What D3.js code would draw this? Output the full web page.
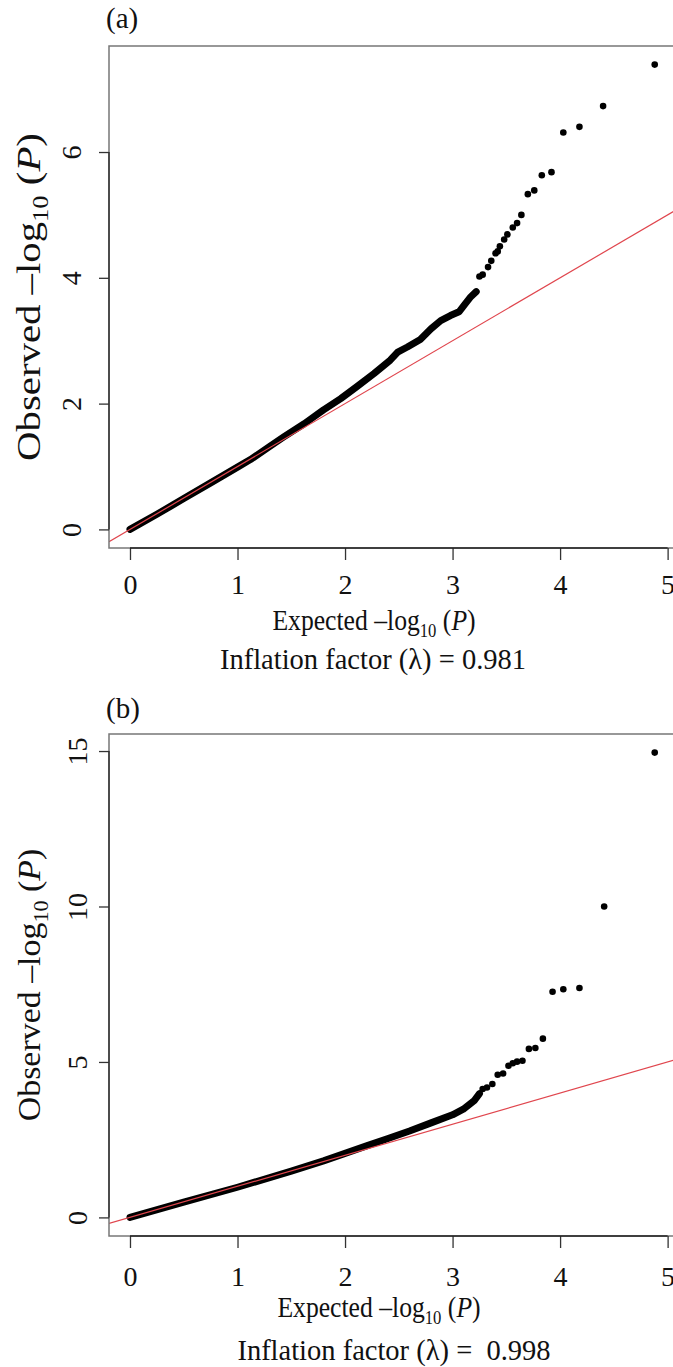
<!DOCTYPE html>
<meta charset="utf-8">
<style>
    body {
        margin: 0;
        background: #fff;
    }
    text {
        font-family: "Liberation Serif", "Times New Roman", serif;
        fill: #111;
    }
</style>
<body>
<div id="plotarea"></div>

<script src="https://cdn.jsdelivr.net/npm/d3@7/dist/d3.min.js"></script>
<script>

    var xTicks = [0, 1, 2, 3, 4, 5];
    var yTicksA = [0, 2, 4, 6];
    var yTicksB = [0, 5, 10, 15];

    // dense part of the qq plot, [expected, observed]
    var bandA = [
        [0.00, 0.00], [0.25, 0.24], [0.50, 0.49], [0.75, 0.74], [1.00, 0.99],
        [1.12, 1.11], [1.30, 1.32], [1.43, 1.47], [1.62, 1.68], [1.80, 1.90],
        [1.96, 2.08], [2.11, 2.27], [2.27, 2.48], [2.42, 2.69], [2.49, 2.82],
        [2.58, 2.90], [2.70, 3.02], [2.80, 3.19], [2.89, 3.32], [2.98, 3.40],
        [3.06, 3.46], [3.11, 3.57], [3.17, 3.70], [3.22, 3.78]
    ];
    // single points of the tail
    var tailA = [
        [3.25, 4.02], [3.28, 4.05], [3.33, 4.17], [3.36, 4.27], [3.40, 4.39],
        [3.42, 4.42], [3.44, 4.50], [3.48, 4.61], [3.51, 4.69], [3.56, 4.80],
        [3.60, 4.87], [3.64, 5.00], [3.70, 5.33], [3.76, 5.39], [3.83, 5.63],
        [3.92, 5.68], [4.03, 6.31], [4.18, 6.40], [4.40, 6.73], [4.88, 7.39]
    ];

    var bandB = [
        [0.00, 0.00], [0.50, 0.49], [1.00, 0.97], [1.50, 1.49], [1.80, 1.82],
        [2.00, 2.06], [2.20, 2.30], [2.40, 2.54], [2.60, 2.78], [2.80, 3.04],
        [3.00, 3.30], [3.10, 3.48], [3.20, 3.75], [3.25, 3.98]
    ];
    var tailB = [
        [3.28, 4.13], [3.32, 4.18], [3.37, 4.29], [3.42, 4.59], [3.47, 4.63],
        [3.52, 4.88], [3.56, 4.96], [3.60, 5.01], [3.65, 5.04], [3.71, 5.42],
        [3.77, 5.45], [3.84, 5.75], [3.93, 7.26], [4.03, 7.34], [4.18, 7.38],
        [4.41, 10.0], [4.88, 14.95]
    ];

    var lambdaA = "0.981",
        lambdaB = "0.998";

    var width = 673, height = 1367,
        plotLeft = 109, plotRight = 675.7;

    var svg = d3.select("#plotarea").append("svg")
            .attr("width", width)
            .attr("height", height);

    function drawPanel(p) {
        var g = svg.append("g");

        var xMax = d3.max(p.tail, function(d) { return d[0]; }),
            yMax = d3.max(p.tail, function(d) { return d[1]; });

        // R style: 4% padding on both ends
        var x = d3.scaleLinear()
                .domain([-0.04 * xMax, 1.04 * xMax])
                .range([plotLeft, plotRight]);
        var y = d3.scaleLinear()
                .domain([-0.04 * yMax, 1.04 * yMax])
                .range([p.bottom, p.top]);

        g.append("clipPath").attr("id", "clip" + p.id)
            .append("rect")
            .attr("x", plotLeft).attr("y", p.top)
            .attr("width", plotRight - plotLeft).attr("height", p.bottom - p.top);

        var plot = g.append("g").attr("clip-path", "url(#clip" + p.id + ")");

        var line = d3.line()
                .x(function(d) { return x(d[0]); })
                .y(function(d) { return y(d[1]); });

        plot.append("path")
            .datum(p.band)
            .attr("d", line)
            .attr("fill", "none")
            .attr("stroke", "#000")
            .attr("stroke-width", 7)
            .attr("stroke-linecap", "round")
            .attr("stroke-linejoin", "round");

        plot.selectAll(".dot")
            .data(p.tail)
            .enter().append("circle")
            .attr("class", "dot")
            .attr("cx", function(d) { return x(d[0]); })
            .attr("cy", function(d) { return y(d[1]); })
            .attr("r", 3.3)
            .attr("fill", "#000");

        var d0 = x.domain()[0], d1 = x.domain()[1];
        plot.append("path")
            .datum([[d0, d0], [d1, d1]])
            .attr("d", line)
            .attr("stroke", "#e0464e")
            .attr("stroke-width", 1.2)
            .attr("fill", "none");

        // box
        g.append("rect")
            .attr("x", plotLeft).attr("y", p.top)
            .attr("width", plotRight - plotLeft).attr("height", p.bottom - p.top)
            .attr("fill", "none")
            .attr("stroke", "#777")
            .attr("stroke-width", 1.5);

        // x axis
        var xAxis = g.append("g")
                .attr("transform", "translate(0," + p.bottom + ")")
                .call(d3.axisBottom(x).tickValues(xTicks).tickFormat(d3.format("d"))
                    .tickSize(12).tickSizeOuter(0));
        xAxis.select(".domain").remove();
        xAxis.attr("font-size", 28).attr("font-family", null);
        xAxis.selectAll(".tick line").attr("stroke", "#333").attr("stroke-width", 1.3);
        xAxis.selectAll(".tick text").attr("y", p.xLabelDy).attr("dy", 0);
        xAxis.append("line")
            .attr("x1", x(xTicks[0])).attr("x2", x(xTicks[xTicks.length - 1]))
            .attr("stroke", "#222").attr("stroke-width", 1.5);

        // y axis
        var yAxis = g.append("g")
                .attr("transform", "translate(" + plotLeft + ",0)")
                .call(d3.axisLeft(y).tickValues(p.yTicks).tickFormat(d3.format("d"))
                    .tickSize(10).tickSizeOuter(0));
        yAxis.select(".domain").remove();
        yAxis.attr("font-size", 28).attr("font-family", null);
        yAxis.selectAll(".tick line").attr("stroke", "#333").attr("stroke-width", 1.3);
        yAxis.selectAll(".tick text")
            .attr("x", 0).attr("dy", 0)
            .attr("text-anchor", "middle")
            .attr("transform", "translate(" + (-p.yLabelDx) + ",0) rotate(-90)");
        yAxis.append("line")
            .attr("y1", y(p.yTicks[0])).attr("y2", y(p.yTicks[p.yTicks.length - 1]))
            .attr("stroke", "#333").attr("stroke-width", 1.5);

        // titles
        g.append("text")
            .attr("x", 106).attr("y", p.labelY)
            .attr("font-size", 29)
            .text(p.label);

        // glyphs in the source are narrow, so squeeze the x title a bit
        var xt = g.append("text")
                .attr("transform", "translate(" + p.xTitleX + "," + p.xTitleY + ") scale(0.9,1)")
                .attr("text-anchor", "middle")
                .attr("font-size", 28.5);
        xt.append("tspan").text("Expected \u2013log");
        xt.append("tspan").attr("font-size", 18.5).attr("dy", 7).text("10");
        xt.append("tspan").attr("dy", -7).text(" (");
        xt.append("tspan").attr("font-style", "italic").text("P");
        xt.append("tspan").text(")");

        var yt = g.append("text")
                .attr("transform", "translate(" + p.yTitleX + "," + ((p.top + p.bottom) / 2) +
                    ") rotate(-90) scale(" + p.yTitleStretch + ",1)")
                .attr("text-anchor", "middle")
                .attr("font-size", p.yTitleSize);
        yt.append("tspan").text("Observed \u2013log");
        yt.append("tspan").attr("font-size", p.yTitleSize * 0.65).attr("dy", 8).text("10");
        yt.append("tspan").attr("dy", -8).text(" (");
        yt.append("tspan").attr("font-style", "italic").text("P");
        yt.append("tspan").text(")");

        g.append("text")
            .attr("x", p.lambdaX).attr("y", p.lambdaY)
            .attr("text-anchor", "middle")
            .attr("font-size", 28.5)
            .style("white-space", "pre")
            .text("Inflation factor (\u03bb) =" + p.lambdaGap + p.lambda);
    }

    drawPanel({
        id: "a", label: "(a)", labelY: 28,
        top: 46, bottom: 548,
        band: bandA, tail: tailA, yTicks: yTicksA,
        yLabelDx: 28, xLabelDy: 46,
        xTitleX: 374, xTitleY: 630,
        yTitleX: 40, yTitleSize: 34, yTitleStretch: 1.2,
        lambda: lambdaA, lambdaGap: " ", lambdaX: 373, lambdaY: 669
    });

    drawPanel({
        id: "b", label: "(b)", labelY: 718,
        top: 734, bottom: 1236,
        band: bandB, tail: tailB, yTicks: yTicksB,
        yLabelDx: 22, xLabelDy: 50,
        xTitleX: 379, xTitleY: 1317,
        yTitleX: 40, yTitleSize: 32, yTitleStretch: 1.06,
        lambda: lambdaB, lambdaGap: "  ", lambdaX: 394, lambdaY: 1360
    });

</script>
